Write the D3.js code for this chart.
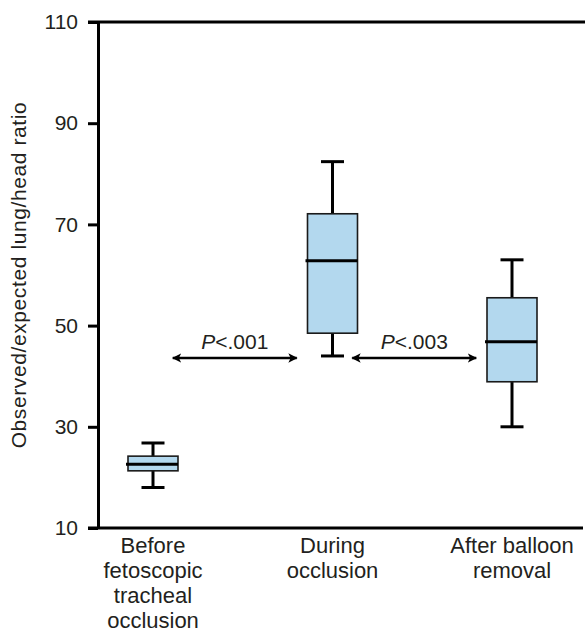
<!DOCTYPE html>
<meta charset="utf-8">
<script src="https://d3js.org/d3.v7.min.js"></script>
<style>
  body { margin: 0; background: #fff; }
  text { font-family: "Liberation Sans", Arial, sans-serif; fill: #231f20; }
</style>
<div id="chart"></div>
<script>
  // groups and their box plot summaries
  const groups = ["Before fetoscopic tracheal occlusion", "During occlusion", "After balloon removal"];
  const groupLines = [["Before", "fetoscopic", "tracheal", "occlusion"], ["During", "occlusion"], ["After balloon", "removal"]];
  const whiskerLow = [18, 44, 30];
  const q1 = [21.3, 48.5, 38.9];
  const median = [22.6, 62.8, 46.8];
  const q3 = [24.2, 72.1, 55.5];
  const whiskerHigh = [26.8, 82.4, 63];

  const yTicks = [10, 30, 50, 70, 90, 110];

  // significance arrows between groups
  const compFrom = [0, 1];
  const compTo = [1, 2];
  const compY = [43.6, 43.6];
  const compP = ["<.001", "<.003"];

  const width = 585, height = 633;
  const margin = { top: 22, right: 0, bottom: 105, left: 98 };

  const svg = d3.select("#chart").append("svg")
    .attr("width", width)
    .attr("height", height);

  const y = d3.scaleLinear()
    .domain([10, 110])
    .range([height - margin.bottom, margin.top]);

  const x = d3.scalePoint()
    .domain(groups)
    .range([margin.left + 55, width - 73]);

  const boxW = 50, capW = 23;

  // frame: left axis with ticks, top and bottom rules
  const yAxis = svg.append("g")
    .attr("transform", `translate(${margin.left},0)`)
    .call(d3.axisLeft(y).tickValues(yTicks).tickSize(10).tickPadding(10).tickSizeOuter(0));
  yAxis.select(".domain").attr("stroke", "#000").attr("stroke-width", 3);
  yAxis.selectAll(".tick line").attr("stroke", "#000").attr("stroke-width", 3);
  yAxis.selectAll(".tick text")
    .style("font-size", "21px")
    .style("font-family", "'Liberation Sans', Arial, sans-serif")
    .attr("fill", "#231f20");

  svg.append("line")
    .attr("x1", margin.left - 10).attr("x2", width)
    .attr("y1", y(110)).attr("y2", y(110))
    .attr("stroke", "#000").attr("stroke-width", 3);
  svg.append("line")
    .attr("x1", margin.left - 10).attr("x2", width - 2)
    .attr("y1", y(10)).attr("y2", y(10))
    .attr("stroke", "#000").attr("stroke-width", 3);

  // y axis title
  svg.append("text")
    .attr("transform", `translate(26,${(y(10) + y(110)) / 2}) rotate(-90)`)
    .attr("text-anchor", "middle")
    .style("font-size", "21px")
    .style("letter-spacing", "0.6px")
    .text("Observed/expected lung/head ratio");

  // box plots
  const boxes = svg.selectAll("g.box")
    .data(groups)
    .join("g")
    .attr("class", "box")
    .attr("transform", d => `translate(${x(d)},0)`);

  boxes.append("line")
    .attr("x1", 0).attr("x2", 0)
    .attr("y1", (d, i) => y(whiskerLow[i])).attr("y2", (d, i) => y(whiskerHigh[i]))
    .attr("stroke", "#000").attr("stroke-width", 3);

  boxes.selectAll("line.cap")
    .data((d, i) => [whiskerLow[i], whiskerHigh[i]])
    .join("line")
    .attr("class", "cap")
    .attr("x1", -capW / 2).attr("x2", capW / 2)
    .attr("y1", v => y(v)).attr("y2", v => y(v))
    .attr("stroke", "#000").attr("stroke-width", 3);

  boxes.append("rect")
    .attr("x", -boxW / 2)
    .attr("width", boxW)
    .attr("y", (d, i) => y(q3[i]))
    .attr("height", (d, i) => y(q1[i]) - y(q3[i]))
    .attr("fill", "#b3d8ee")
    .attr("stroke", "#1a1a1a")
    .attr("stroke-width", 1.6);

  boxes.append("line")
    .attr("x1", -boxW / 2 - 2).attr("x2", boxW / 2)
    .attr("y1", (d, i) => y(median[i])).attr("y2", (d, i) => y(median[i]))
    .attr("stroke", "#000").attr("stroke-width", 3);

  // category labels
  svg.selectAll("text.cat")
    .data(groups)
    .join("text")
    .attr("class", "cat")
    .attr("text-anchor", "middle")
    .attr("x", d => x(d))
    .attr("y", y(10) + 25)
    .style("font-size", "22px")
    .selectAll("tspan")
    .data((d, i) => groupLines[i])
    .join("tspan")
    .attr("x", function () { return this.parentNode.getAttribute("x"); })
    .attr("dy", (d, i) => i === 0 ? 0 : 25)
    .text(d => d);

  // arrows
  const defs = svg.append("defs");
  defs.append("marker")
    .attr("id", "head")
    .attr("viewBox", "0 0 10 10")
    .attr("refX", 9).attr("refY", 5)
    .attr("markerWidth", 3.6).attr("markerHeight", 3.6)
    .attr("orient", "auto-start-reverse")
    .append("path")
    .attr("d", "M0,0 L10,5 L0,10 L2.5,5 Z")
    .attr("fill", "#000");

  const halfLen = 62;
  compFrom.forEach((f, i) => {
    const mid = (x(groups[f]) + x(groups[compTo[i]])) / 2 - 8;
    svg.append("line")
      .attr("x1", mid - halfLen).attr("x2", mid + halfLen)
      .attr("y1", y(compY[i])).attr("y2", y(compY[i]))
      .attr("stroke", "#000").attr("stroke-width", 2.6)
      .attr("marker-start", "url(#head)")
      .attr("marker-end", "url(#head)");
    const t = svg.append("text")
      .attr("x", mid)
      .attr("y", y(compY[i]) - 9)
      .attr("text-anchor", "middle")
      .style("font-size", "21px");
    t.append("tspan").style("font-style", "italic").text("P");
    t.append("tspan").text(compP[i]);
  });
</script>
